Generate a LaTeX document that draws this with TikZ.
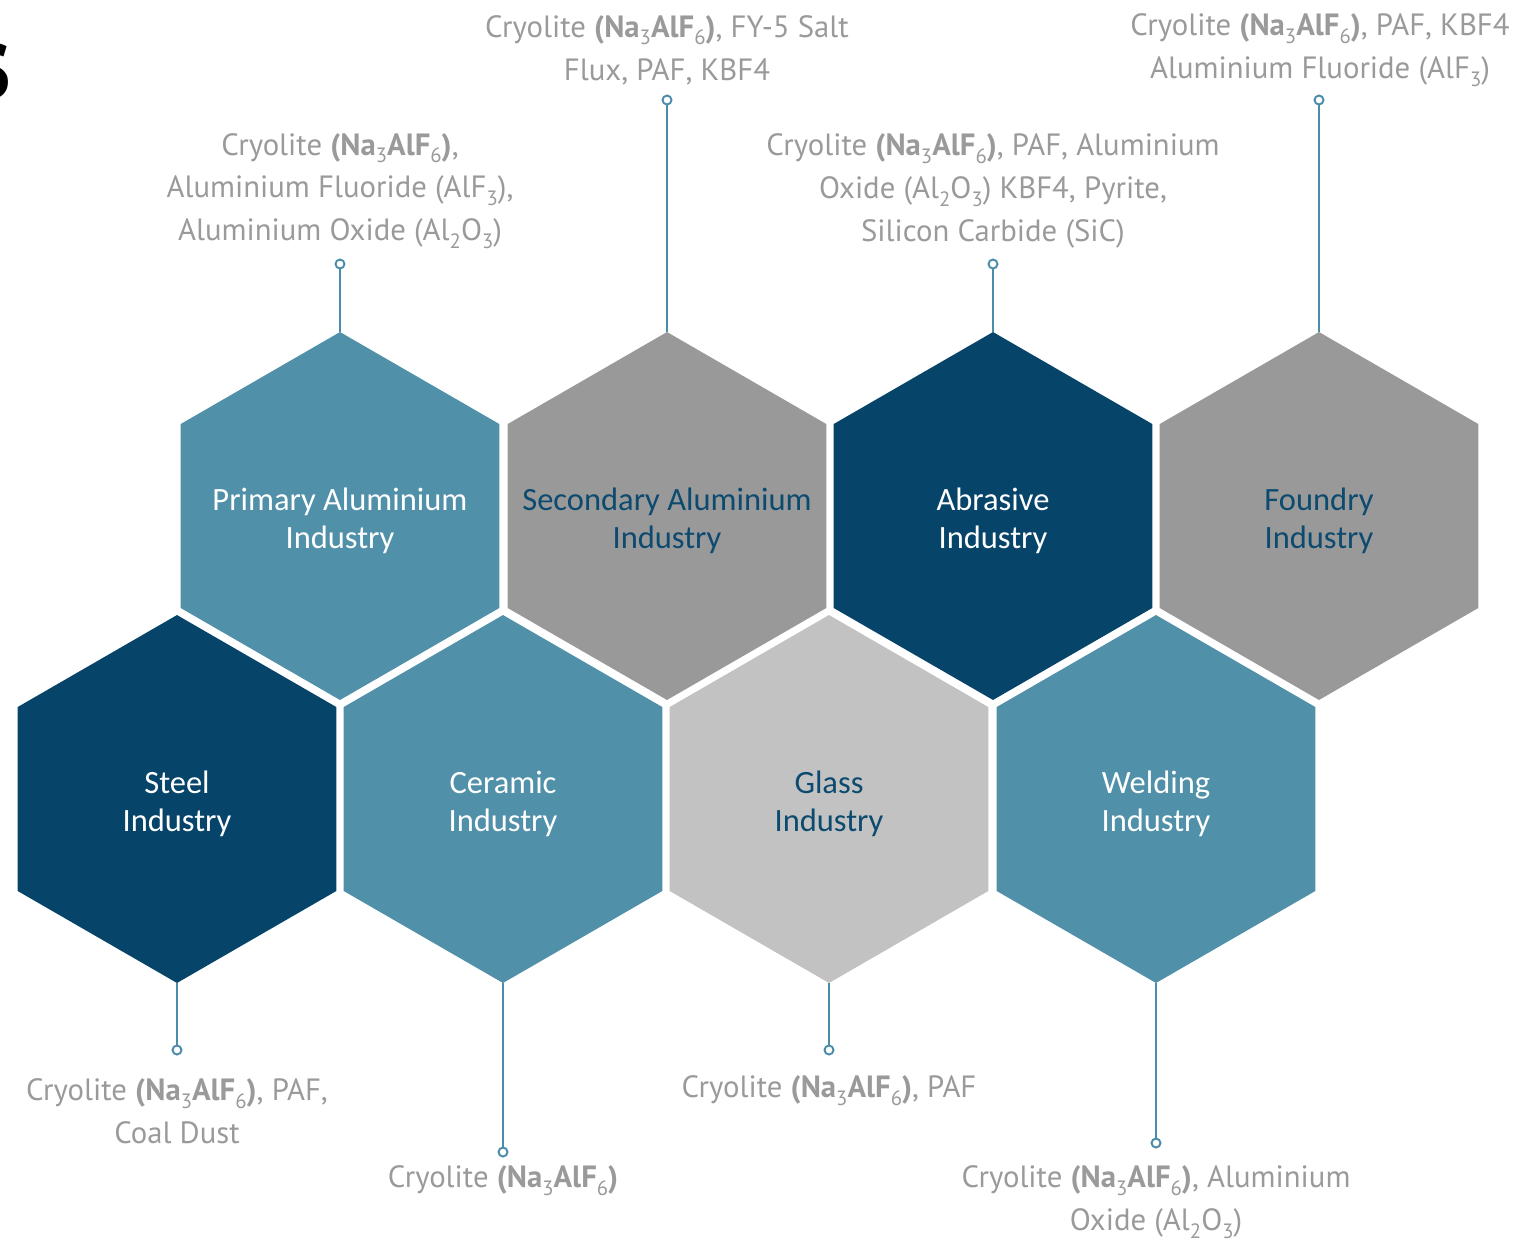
\documentclass[tikz,border=0pt]{standalone}
\usepackage{fontspec}
\setmainfont{PT Sans}
\newfontfamily\hexfont{Carlito}
\usetikzlibrary{shapes.geometric}
\definecolor{hexblue}{HTML}{5190A9}
\definecolor{hexnavy}{HTML}{07446A}
\definecolor{hexgray}{HTML}{999999}
\definecolor{hexpale}{HTML}{C2C2C2}
\definecolor{labelgray}{HTML}{9A9A9A}
\definecolor{leadblue}{HTML}{4B8CA8}
\definecolor{navytext}{HTML}{0C4A6F}
\newcommand{\chsub}[1]{\raisebox{-0.5ex}{\mdseries\fontsize{11.8}{11.8}\selectfont #1}}
\newcommand{\cryo}{Cryolite \textbf{(Na\chsub{3}AlF\chsub{6})}}
\tikzset{
  hexcell/.style={
    regular polygon, regular polygon sides=6, shape border rotate=30,
    minimum size=7.36cm, inner sep=0pt
  },
  hexname/.style={
    align=center, inner sep=0pt, yshift=-0.1cm,
    font=\hexfont\fontsize{18.5}{21.6}\selectfont
  },
  matlabel/.style={
    align=center, inner sep=0pt, text=labelgray,
    font=\fontsize{17.5}{24.4}\selectfont
  },
  tipdot/.style={
    circle, draw=leadblue, fill=white, line width=1.1pt,
    inner sep=0pt, minimum size=0.18cm
  },
  leader/.style={leadblue, line width=1.1pt},
}

\begin{document}
\begin{tikzpicture}[x=0.02cm,y=-0.02cm]
  \useasboundingbox (0,0) rectangle (1535,1242);
  \node[anchor=base east, inner sep=0pt, font=\bfseries\fontsize{62}{62}\selectfont] (headtail) at (12,98) {s};

  \node[hexcell, fill=hexblue, label={[hexname, text=white]center:Primary Aluminium\\Industry}] (prim) at (340,516) {};
  \node[hexcell, fill=hexgray, label={[hexname, text=navytext]center:Secondary Aluminium\\Industry}] (second) at (667,516) {};
  \node[hexcell, fill=hexnavy, label={[hexname, text=white]center:Abrasive\\Industry}] (abras) at (993,516) {};
  \node[hexcell, fill=hexgray, label={[hexname, text=navytext]center:Foundry\\Industry}] (foundry) at (1319,516) {};
  \node[hexcell, fill=hexnavy, label={[hexname, text=white]center:Steel\\Industry}] (steel) at (177,799) {};
  \node[hexcell, fill=hexblue, label={[hexname, text=white]center:Ceramic\\Industry}] (ceramic) at (503,799) {};
  \node[hexcell, fill=hexpale, label={[hexname, text=navytext]center:Glass\\Industry}] (glass) at (829,799) {};
  \node[hexcell, fill=hexblue, label={[hexname, text=white]center:Welding\\Industry}] (weld) at (1156,799) {};

  \node[tipdot] (primdot) at (340,264) {};
  \node[tipdot] (seconddot) at (667,100) {};
  \node[tipdot] (abrasdot) at (993,264) {};
  \node[tipdot] (foundrydot) at (1319,100) {};
  \node[tipdot] (steeldot) at (177,1050) {};
  \node[tipdot] (ceramicdot) at (503,1152) {};
  \node[tipdot] (glassdot) at (829,1050) {};
  \node[tipdot] (welddot) at (1156,1143) {};

  \draw[leader] (prim.90) -- (primdot);
  \draw[leader] (second.90) -- (seconddot);
  \draw[leader] (abras.90) -- (abrasdot);
  \draw[leader] (foundry.90) -- (foundrydot);
  \draw[leader] (steel.270) -- (steeldot);
  \draw[leader] (ceramic.270) -- (ceramicdot);
  \draw[leader] (glass.270) -- (glassdot);
  \draw[leader] (weld.270) -- (welddot);

  \node[matlabel] (primtext) at (340,191) {\cryo,\\Aluminium Fluoride (AlF\chsub{3}),\\Aluminium Oxide (Al\chsub{2}O\chsub{3})};
  \node[matlabel] (secondtext) at (667,50) {\cryo, FY-5 Salt\\Flux, PAF, KBF4};
  \node[matlabel] (abrastext) at (993,191) {\cryo, PAF, Aluminium\\Oxide (Al\chsub{2}O\chsub{3}) KBF4, Pyrite,\\Silicon Carbide (SiC)};
  \node[matlabel] (foundrytext) at (1320,50) {\cryo, PAF, KBF4\\Aluminium Fluoride (AlF\chsub{3})};
  \node[matlabel] (steeltext) at (177,1111) {\cryo, PAF,\\Coal Dust};
  \node[matlabel] (ceramictext) at (503,1181) {\cryo};
  \node[matlabel] (glasstext) at (829,1091) {\cryo, PAF};
  \node[matlabel] (weldtext) at (1156,1202) {\cryo, Aluminium\\Oxide (Al\chsub{2}O\chsub{3})};
\end{tikzpicture}
\end{document}
